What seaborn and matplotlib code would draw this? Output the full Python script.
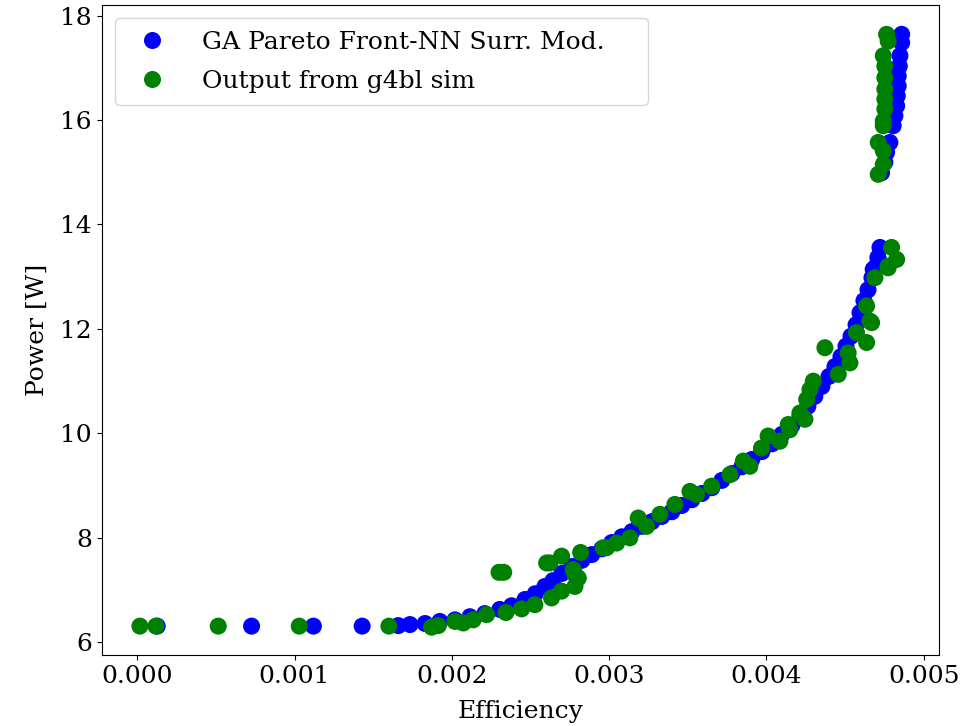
import matplotlib
matplotlib.use("Agg")
import matplotlib.pyplot as plt
import seaborn as sns
import pandas as pd

# GA Pareto front from NN surrogate model (efficiency in units of 1e-3)
ga_eff = [0.127, 0.727, 1.12, 1.43,
          1.66, 1.734, 1.83, 1.924, 2.02, 2.115, 2.21, 2.305, 2.38, 2.465,
          2.53, 2.592, 2.643, 2.70, 2.763, 2.827, 2.89, 2.954, 3.017, 3.081,
          3.145, 3.208, 3.272, 3.335, 3.399, 3.462, 3.526, 3.59, 3.653, 3.717,
          3.78, 3.844, 3.907, 3.971, 4.035, 4.098, 4.162, 4.213, 4.264, 4.308,
          4.353, 4.398, 4.436, 4.474, 4.506, 4.538, 4.57, 4.595, 4.62, 4.646,
          4.671, 4.69, 4.709, 4.722, 4.711, 4.679,
          4.732, 4.753, 4.764, 4.785, 4.806, 4.817, 4.828, 4.832, 4.838, 4.838,
          4.845, 4.849, 4.86, 4.86]
ga_pow = [6.31, 6.31, 6.31, 6.31,
          6.32, 6.34, 6.36, 6.40, 6.43, 6.49, 6.55, 6.63, 6.70, 6.82,
          6.93, 7.07, 7.18, 7.32, 7.45, 7.57, 7.68, 7.79, 7.91, 8.02,
          8.12, 8.22, 8.31, 8.41, 8.50, 8.62, 8.73, 8.85, 8.96, 9.10,
          9.23, 9.36, 9.50, 9.65, 9.80, 9.98, 10.15, 10.32, 10.52, 10.71,
          10.90, 11.09, 11.28, 11.47, 11.67, 11.86, 12.08, 12.31, 12.54, 12.75,
          12.98, 13.17, 13.37, 13.56, 13.33, 13.14,
          14.99, 15.19, 15.38, 15.57, 15.89, 16.08, 16.27, 16.46, 16.65, 16.84,
          17.03, 17.23, 17.48, 17.64]

# Output from g4bl simulation (efficiency in units of 1e-3)
sim_eff = [0.017, 0.119, 0.515, 1.03, 1.60,
           1.872, 1.914, 2.02, 2.073, 2.136, 2.221, 2.30, 2.33, 2.344, 2.444,
           2.528, 2.634, 2.698, 2.783, 2.804, 2.772, 2.783, 2.624, 2.603, 2.698,
           2.819, 2.962, 2.984, 3.048, 3.132, 3.185, 3.238, 3.323, 3.418, 3.514,
           3.556, 3.652, 3.768, 3.853, 3.895, 3.969, 4.011, 4.086, 4.149, 4.139,
           4.245, 4.213, 4.256, 4.277, 4.298, 4.372, 4.457, 4.52, 4.531, 4.573,
           4.637, 4.658, 4.637, 4.669, 4.69, 4.774, 4.796, 4.828, 4.774,
           4.711, 4.743, 4.743, 4.711, 4.743, 4.743, 4.753, 4.753, 4.753,
           4.753, 4.753, 4.743, 4.774, 4.764]
sim_pow = [6.31, 6.31, 6.31, 6.31, 6.31,
           6.29, 6.32, 6.40, 6.37, 6.43, 6.53, 7.34, 7.34, 6.57, 6.64,
           6.72, 6.85, 6.98, 7.07, 7.23, 7.39, 7.30, 7.52, 7.52, 7.65,
           7.72, 7.81, 7.81, 7.90, 8.00, 8.38, 8.22, 8.45, 8.64, 8.89,
           8.83, 8.99, 9.21, 9.47, 9.37, 9.72, 9.95, 9.85, 10.07, 10.17,
           10.27, 10.39, 10.65, 10.84, 11.00, 11.64, 11.13, 11.54, 11.35, 11.93,
           11.74, 12.15, 12.44, 12.12, 12.98, 13.20, 13.56, 13.33, 13.17,
           14.96, 15.15, 15.41, 15.57, 15.89, 15.98, 16.21, 16.40, 16.59,
           16.81, 17.03, 17.23, 17.51, 17.64]

labels = ["GA Pareto Front-NN Surr. Mod.", "Output from g4bl sim"]

df = pd.concat([
    pd.DataFrame({"Efficiency": [v * 1e-3 for v in ga_eff], "Power": ga_pow,
                  "Source": labels[0]}),
    pd.DataFrame({"Efficiency": [v * 1e-3 for v in sim_eff], "Power": sim_pow,
                  "Source": labels[1]}),
], ignore_index=True)

plt.rcParams["font.family"] = ["DejaVu Serif"]
plt.rcParams["font.size"] = 18

fig, ax = plt.subplots(figsize=(9.73, 7.26), dpi=100)
fig.subplots_adjust(left=0.1045, right=0.965, bottom=0.098, top=0.993)

sns.scatterplot(data=df, x="Efficiency", y="Power", hue="Source",
                palette={labels[0]: "blue", labels[1]: "green"},
                s=150, linewidth=0, ax=ax)

ax.set_xlim(-0.000226, 0.005097)
ax.set_ylim(5.76, 18.2)
ax.set_xticks([0.000, 0.001, 0.002, 0.003, 0.004, 0.005])
ax.set_xticklabels(["0.000", "0.001", "0.002", "0.003", "0.004", "0.005"])
ax.set_yticks([6, 8, 10, 12, 14, 16, 18])
ax.set_xlabel("Efficiency", fontsize=18, labelpad=9)
ax.set_ylabel("Power [W]", fontsize=18, labelpad=8)
ax.tick_params(labelsize=18)
ax.legend(loc="upper left", bbox_to_anchor=(0.0159, 0.0, 0.6366, 0.98),
          mode="expand", borderaxespad=0, fontsize=18, title=None,
          borderpad=0.5, labelspacing=0.65, handletextpad=1.0)

fig.savefig("out.png", dpi=100)
